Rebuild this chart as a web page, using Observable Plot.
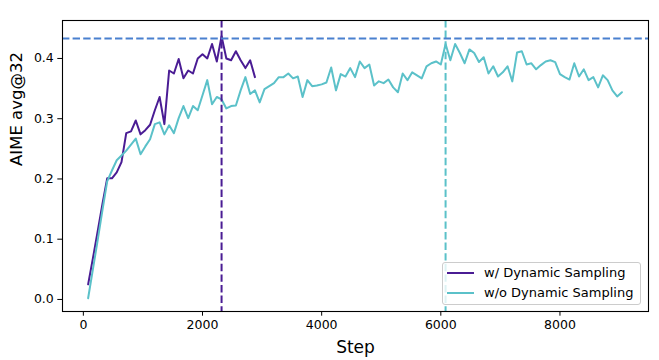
<!DOCTYPE html>
<html><head><meta charset="utf-8">
<script src="https://cdn.jsdelivr.net/npm/d3@7"></script>
<script src="https://cdn.jsdelivr.net/npm/@observablehq/plot@0.6"></script>
<style>
body{margin:0;background:#fff;}
#wrap{position:relative;width:659px;height:360px;font-family:"DejaVu Sans",sans-serif;}
.legend{position:absolute;left:442px;top:262px;width:199px;height:43px;border:1px solid #cccccc;border-radius:3px;background:rgba(255,255,255,0.8);box-sizing:border-box;}
.row{position:absolute;left:0;height:20px;width:100%;}
.sw{position:absolute;left:4px;top:9px;width:27px;height:2px;}
.lt{position:absolute;left:41px;top:0;line-height:20px;font-size:13px;color:#000;white-space:nowrap;}
</style>
</head><body>
<div id="wrap"></div>
<script>
const seriesNames = ["w/ Dynamic Sampling", "w/o Dynamic Sampling"];
const purple = "#4a1c94";
const teal = "#5bc1c9";
const blue = "#4a80cf";

const purpleSteps = [80,160,240,320,400,480,560,640,720,800,880,960,1040,1120,1200,1280,1360,1440,1520,1600,1680,1760,1840,1920,2000,2080,2160,2240,2320,2400,2480,2560,2640,2720,2800,2880];
const purpleValues = [0.025,0.068,0.113,0.158,0.201,0.201,0.211,0.228,0.276,0.279,0.297,0.274,0.281,0.290,0.314,0.336,0.291,0.380,0.375,0.399,0.367,0.380,0.375,0.400,0.407,0.400,0.424,0.395,0.437,0.400,0.397,0.412,0.397,0.384,0.397,0.369];

const tealSteps = [80,160,240,320,400,480,560,640,720,800,880,960,1040,1120,1200,1280,1360,1440,1520,1600,1680,1760,1840,1920,2000,2080,2160,2240,2320,2400,2480,2560,2640,2720,2800,2880,2960,3040,3120,3200,3280,3360,3440,3520,3600,3680,3760,3840,3920,4000,4080,4160,4240,4320,4400,4480,4560,4640,4720,4800,4880,4960,5040,5120,5200,5280,5360,5440,5520,5600,5680,5760,5840,5920,6000,6080,6160,6240,6320,6400,6480,6560,6640,6720,6800,6880,6960,7040,7120,7200,7280,7360,7440,7520,7600,7680,7760,7840,7920,8000,8080,8160,8240,8320,8400,8480,8560,8640,8720,8800,8880,8960,9040];
const tealValues = [0.002,0.050,0.098,0.148,0.196,0.214,0.231,0.239,0.247,0.257,
0.267,0.241,0.254,0.266,0.291,0.294,0.274,0.289,0.276,0.301,
0.321,0.301,0.321,0.314,0.339,0.364,0.324,0.336,0.332,0.317,
0.321,0.322,0.347,0.369,0.341,0.347,0.327,0.349,0.354,0.359,
0.369,0.369,0.375,0.367,0.370,0.336,0.364,0.354,0.355,0.357,
0.360,0.385,0.347,0.374,0.370,0.384,0.369,0.395,0.384,0.390,
0.355,0.362,0.359,0.365,0.352,0.344,0.375,0.364,0.377,0.372,
0.367,0.387,0.392,0.395,0.390,0.424,0.397,0.424,0.409,0.392,
0.415,0.409,0.394,0.402,0.375,0.387,0.370,0.377,0.387,0.362,
0.410,0.412,0.390,0.392,0.382,0.389,0.395,0.397,0.394,0.374,
0.369,0.365,0.392,0.370,0.382,0.364,0.369,0.352,0.372,0.364,
0.347,0.337,0.344];

const hlineValue = [0.433];
const xTicks = [0,2000,4000,6000,8000];
const yTicks = [0.0,0.1,0.2,0.3,0.4];
const xLabel = "Step";
const yLabel = "AIME avg@32";

const purpleData = purpleSteps.map((s,i)=>({step:s,value:purpleValues[i]}));
const tealData = tealSteps.map((s,i)=>({step:s,value:tealValues[i]}));
const purpleBest = d3.greatest(purpleData, d=>d.value).step;
const tealBest = d3.greatest(tealData, d=>d.value).step;
const dash = "7.4,3.2";

const chart = Plot.plot({
  width:659, height:360,
  marginLeft:62, marginRight:11, marginTop:20, marginBottom:49,
  style:{fontFamily:"DejaVu Sans", fontSize:"12.5px", color:"#000", background:"#fff"},
  x:{domain:[-350,9486]},
  y:{domain:[-0.02,0.463]},
  marks:[
    Plot.line(purpleData,{x:"step",y:"value",stroke:purple,strokeWidth:2,strokeLinejoin:"round"}),
    Plot.line(tealData,{x:"step",y:"value",stroke:teal,strokeWidth:2,strokeLinejoin:"round"}),
    Plot.ruleX([purpleBest],{stroke:purple,strokeWidth:2,strokeDasharray:dash}),
    Plot.ruleX([tealBest],{stroke:teal,strokeWidth:2,strokeDasharray:dash}),
    Plot.ruleY(hlineValue,{stroke:blue,strokeWidth:2,strokeDasharray:dash}),
    Plot.frame({stroke:"#000",strokeWidth:1.1}),
    Plot.axisX({ticks:xTicks,tickSize:4.7,tickPadding:4,tickFormat:d=>String(d),label:null,fontSize:12.5}),
    Plot.axisY({ticks:yTicks,tickSize:4.7,tickPadding:4,tickFormat:d3.format(".1f"),label:null,fontSize:12.5}),
    Plot.text([xLabel],{frameAnchor:"bottom",dy:41,lineAnchor:"bottom",fontSize:17}),
    Plot.text([yLabel],{frameAnchor:"left",dx:-46,rotate:-90,fontSize:16.5})
  ]
});
const wrap = document.getElementById("wrap");
wrap.appendChild(chart);
const leg = document.createElement("div");
leg.className = "legend";
[purple, teal].forEach((c,i)=>{
  const r = document.createElement("div");
  r.className="row"; r.style.top = (i*19.5)+"px";
  const sw = document.createElement("div"); sw.className="sw"; sw.style.background=c;
  const t = document.createElement("div"); t.className="lt"; t.textContent = seriesNames[i];
  r.appendChild(sw); r.appendChild(t); leg.appendChild(r);
});
wrap.appendChild(leg);
</script>
</body></html>
